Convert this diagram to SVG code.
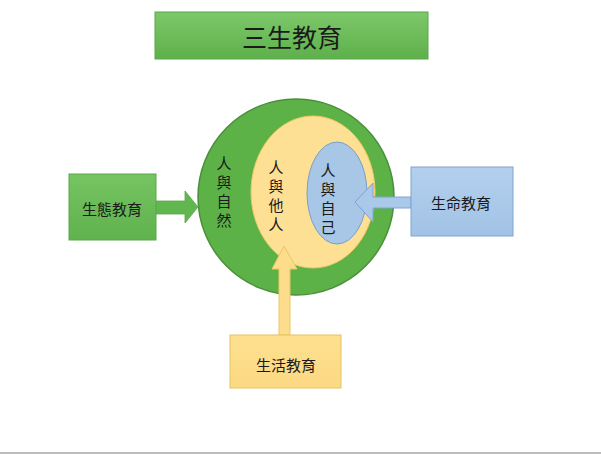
<svg xmlns="http://www.w3.org/2000/svg" width="601" height="454" viewBox="0 0 601 454">
<defs>
<linearGradient id="gTitle" x1="0" y1="0" x2="0" y2="1"><stop offset="0" stop-color="#7dc86a"/><stop offset="1" stop-color="#5eb04c"/></linearGradient>
<linearGradient id="gGreen" x1="0" y1="0" x2="0" y2="1"><stop offset="0" stop-color="#76c462"/><stop offset="1" stop-color="#5fb24d"/></linearGradient>
<linearGradient id="gBlue" x1="0" y1="0" x2="0" y2="1"><stop offset="0" stop-color="#b3d0ee"/><stop offset="1" stop-color="#a2c3e6"/></linearGradient>
<linearGradient id="gYellow" x1="0" y1="0" x2="0" y2="1"><stop offset="0" stop-color="#fde08f"/><stop offset="1" stop-color="#fcd983"/></linearGradient>
</defs>
<style>
text{font-family:"Noto Sans CJK TC","Noto Sans CJK SC",sans-serif;text-anchor:middle;dominant-baseline:central;fill:#1a1a1a}
.box{font-size:15px}
.v{font-size:15px}
</style>
<rect width="601" height="454" fill="#ffffff"/>
<rect x="0" y="452" width="601" height="2" fill="#bdbdbd"/>
<g id="title">
<rect x="155" y="12" width="273" height="47" fill="url(#gTitle)" stroke="#5aa84a" stroke-width="1"/>
<text x="292" y="36" style="font-size:25px">三生教育</text>
</g>
<g id="circle-nature">
<circle cx="296" cy="197" r="98" fill="#5cb247" stroke="#4b8f3b" stroke-width="1.5"/>
<text class="v" x="224" y="162">人</text><text class="v" x="224" y="181">與</text><text class="v" x="224" y="200">自</text><text class="v" x="224" y="219">然</text>
</g>
<g id="ellipse-others">
<ellipse cx="313" cy="192" rx="62" ry="76" fill="#fde093" stroke="#edc866" stroke-width="1"/>
<text class="v" x="276" y="166">人</text><text class="v" x="276" y="185">與</text><text class="v" x="276" y="204">他</text><text class="v" x="276" y="223">人</text>
</g>
<g id="ellipse-self">
<ellipse cx="337" cy="193" rx="30" ry="51" fill="#a8c6e6" stroke="#7b9fc8" stroke-width="1"/>
<text class="v" x="328" y="169">人</text><text class="v" x="328" y="188">與</text><text class="v" x="328" y="207">自</text><text class="v" x="328" y="226">己</text>
</g>
<g id="connectors">
<polygon points="156,201 185,201 185,191 198,207 185,223 185,214 156,214" fill="#62b650" stroke="#5aa84a" stroke-width="0.8"/>
<polygon points="411,197 373,197 373,183 355,202 373,222 373,208 411,208" fill="#a9c8ea" stroke="#7ea4cf" stroke-width="1"/>
<polygon points="279,335 279,269 272,269 284,246 297,269 290,269 290,335" fill="#fddc8c" stroke="#eac766" stroke-width="1"/>
</g>
<g id="node-eco">
<rect x="69" y="174" width="87" height="66" fill="url(#gGreen)" stroke="#5aa84a" stroke-width="1"/>
<text class="box" x="112" y="208">生態教育</text>
</g>
<g id="node-life">
<rect x="411" y="167" width="102" height="69" fill="url(#gBlue)" stroke="#7ea4cf" stroke-width="1"/>
<text class="box" x="461" y="202">生命教育</text>
</g>
<g id="node-living">
<rect x="230" y="335" width="111" height="53" fill="url(#gYellow)" stroke="#e6c162" stroke-width="1"/>
<text class="box" x="286" y="364">生活教育</text>
</g>
</svg>
